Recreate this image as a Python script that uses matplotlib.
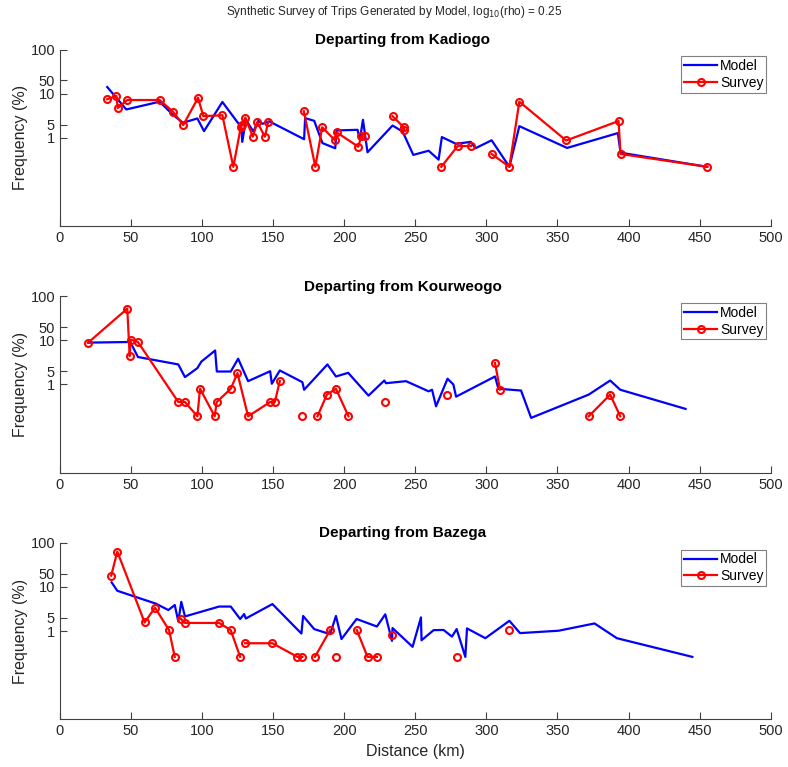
import matplotlib.pyplot as plt
import numpy as np

nan = np.nan

# Kadiogo
kad_model_km = [33.3, 46.7, 70.2, 79.6, 86.6, 96.7, 101.4, 114.3, 127.6, 128.3, 130.8, 136.1,
                139.6, 142.6, 147.2, 171.8, 172.5, 178.9, 184.7, 193.7, 194.6, 209.4, 211.0,
                213.2, 216.4, 234.0, 241.1, 248.6, 259.4, 266.4, 268.7, 278.7, 289.0, 292.3,
                303.7, 316.2, 323.2, 356.8, 392.5, 394.4, 455.4]
kad_model_pct = [14.2, 4.4, 6.6, 3.3, 2.2, 2.75, 1.42, 6.5, 1.73, 0.81, 2.56, 1.39,
                 2.43, 2.08, 2.37, 0.93, 2.8, 2.43, 0.76, 0.58, 1.47, 1.52, 0.90,
                 2.56, 0.47, 1.9, 1.39, 0.41, 0.51, 0.32, 1.04, 0.73, 0.81, 0.58,
                 0.88, 0.22, 1.84, 0.59, 1.28, 0.46, 0.22]
kad_survey_km = [33.3, 39.8, 40.7, 47.4, 70.2, 79.6, 86.8, 97.2, 100.9, 114.3, 122.0, 127.3,
                 128.4, 130.5, 135.7, 138.9, 144.2, 146.5, nan, 171.6, 179.7, 184.5, 193.7,
                 194.7, 209.9, 212.0, 214.3, nan, 234.0, 241.8, 242.3, nan, 268.3, 279.8,
                 289.2, nan, 303.7, 316.2, 323.2, 356.1, 393.0, 394.4, 455.4]
kad_survey_pct = [7.5, 8.9, 4.75, 7.2, 7.2, 3.9, 1.95, 8.1, 3.1, 3.25, 0.22, 1.78,
                  1.97, 2.88, 1.06, 2.25, 1.06, 2.25, nan, 4.0, 0.22, 1.73, 0.87,
                  1.33, 0.63, 1.08, 1.08, nan, 3.1, 1.75, 1.5, nan, 0.22, 0.65,
                  0.65, nan, 0.43, 0.22, 6.6, 0.87, 2.4, 0.43, 0.22]

# Kourweogo
kou_model_km = [19.9, 49.5, 54.9, 83.3, 88.0, 96.7, 99.5, 109.2, 110.4, 120.2, 125.4, 132.4,
                147.9, 149.1, 154.7, 170.6, 171.8, 188.2, 194.2, 202.8, 217.1, 228.2, 229.4,
                243.5, 259.4, 261.8, 264.6, 272.7, 276.8, 278.7, 306.1, 308.5, 324.4, 331.5,
                372.0, 387.1, 394.2, 440.1]
kou_model_pct = [8.9, 9.2, 4.2, 2.85, 1.47, 2.35, 3.3, 5.9, 1.97, 1.97, 3.84, 1.19,
                 2.0, 1.04, 2.08, 1.13, 0.76, 2.85, 1.52, 1.84, 0.56, 1.23, 1.07,
                 1.19, 0.70, 0.76, 0.32, 1.35, 1.0, 0.53, 1.52, 0.80, 0.73, 0.175,
                 0.59, 1.23, 0.76, 0.28]
kou_survey_km = [19.9, 47.4, 49.1, 49.8, 54.9, 83.3, 88.0, 96.7, 98.6, 108.9, 110.3, 120.2,
                 124.9, 132.4, 147.9, 151.2, 154.7, nan, 170.6, nan, 181.2, 187.8, 194.2,
                 203.0, nan, 228.7, nan, 272.3, nan, 306.1, 309.6, nan, 372.0, 387.1, 394.2]
kou_survey_pct = [8.9, 52.5, 4.4, 10.4, 9.2, 0.40, 0.40, 0.19, 0.80, 0.19, 0.40, 0.80,
                  1.81, 0.19, 0.40, 0.40, 1.19, nan, 0.19, nan, 0.19, 0.59, 0.80,
                  0.19, nan, 0.40, nan, 0.58, nan, 3.05, 0.77, nan, 0.19, 0.59, 0.19]

# Bazega
baz_model_km = [36.4, 40.4, 67.4, 76.3, 80.8, 83.3, 85.4, 88.0, 112.0, 120.2, 126.8, 129.6,
                130.8, 149.5, 169.9, 171.1, 178.9, 190.1, 194.2, 198.1, 208.7, 223.0, 228.9,
                233.6, 234.0, 248.1, 254.0, 254.4, 262.9, 269.9, 275.8, 279.1, 285.2, 286.4,
                299.3, 316.2, 323.7, 350.9, 376.1, 391.8, 444.9]
baz_model_pct = [12.7, 8.2, 4.2, 3.0, 3.9, 1.65, 4.6, 2.15, 3.6, 3.6, 1.88, 2.43,
                 1.93, 4.1, 0.88, 2.2, 1.11, 0.85, 2.2, 0.66, 1.88, 1.27, 2.4,
                 0.60, 1.17, 0.44, 2.04, 0.62, 1.05, 1.06, 0.75, 1.11, 0.26, 1.15,
                 0.69, 1.71, 0.90, 1.02, 1.49, 0.69, 0.26]
baz_survey_km = [36.1, 40.4, 59.6, 66.9, 76.8, 80.8, nan, 85.0, 88.0, 112.0, 120.2, 126.8,
                 nan, 130.3, 149.5, 167.1, 170.6, nan, 179.4, 190.1, nan, 194.2, nan, 208.9,
                 216.4, 223.0, nan, 233.6, nan, 279.1, nan, 316.2]
baz_survey_pct = [18.1, 63.4, 1.57, 3.4, 1.05, 0.26, nan, 1.9, 1.53, 1.53, 1.05, 0.26,
                  nan, 0.53, 0.53, 0.26, 0.26, nan, 0.26, 1.05, nan, 0.26, nan, 1.05,
                  0.26, 0.26, nan, 0.81, nan, 0.26, nan, 1.05]

panels = [
    ('Departing from Kadiogo', kad_model_km, kad_model_pct, kad_survey_km, kad_survey_pct),
    ('Departing from Kourweogo', kou_model_km, kou_model_pct, kou_survey_km, kou_survey_pct),
    ('Departing from Bazega', baz_model_km, baz_model_pct, baz_survey_km, baz_survey_pct),
]

plt.rcParams['font.family'] = ['Liberation Sans', 'DejaVu Sans']
txt = '#262626'
axc = '#404040'

fig = plt.figure(figsize=(7.88, 7.67), dpi=100)
bottoms = [0.7053, 0.3837, 0.0622]
for (title, mk, mp, sk, sp), b in zip(panels, bottoms):
    ax = fig.add_axes([0.076, b, 0.902, 0.2300])
    ax.plot(mk, mp, color='blue', lw=1.6, label='Model')
    ax.plot(sk, sp, color='red', lw=1.6, marker='o', ms=5, mfc='none', mew=1.5,
            label='Survey')
    ax.set_yscale('log')
    ax.set_ylim(0.01, 100)
    ax.set_xlim(0, 500)
    ax.set_xticks(np.arange(0, 501, 50))
    ax.set_yticks([1, 2, 10, 20, 100])
    ax.set_yticklabels(['1', '5', '10', '50', '100'])
    ax.minorticks_off()
    ax.tick_params(direction='in', length=5, width=0.8, colors=axc, labelcolor=txt,
                   labelsize=10.5)
    for s in ['top', 'right']:
        ax.spines[s].set_visible(False)
    for s in ['left', 'bottom']:
        ax.spines[s].set_color(axc)
        ax.spines[s].set_linewidth(0.8)
    ax.set_ylabel('Frequency (%)', fontsize=11.5, color=txt, labelpad=2)
    ax.set_title(title, fontsize=11, fontweight='bold', color='black', pad=4, x=0.482)
    leg = ax.legend(loc='upper right', fontsize=10, fancybox=False, framealpha=1,
                    edgecolor='#808080', borderaxespad=0.3, handlelength=2.4,
                    borderpad=0.2, labelspacing=0.2, handletextpad=0.2,
                    bbox_to_anchor=(1.0, 0.985))
    leg.get_frame().set_linewidth(0.8)
    if b == bottoms[-1]:
        ax.set_xlabel('Distance (km)', fontsize=11.5, color=txt)

fig.suptitle(r'Synthetic Survey of Trips Generated by Model, log$_{10}$(rho) = 0.25',
             fontsize=8.5, y=0.995, color=txt)

fig.savefig('out.png', dpi=100)
